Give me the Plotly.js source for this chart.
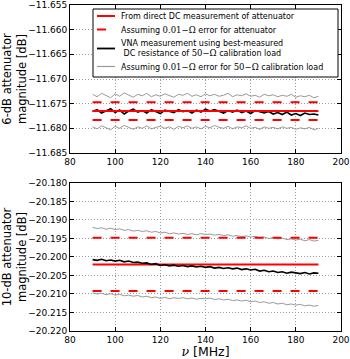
<!DOCTYPE html>
<html><head><meta charset="utf-8">
<script src="https://cdn.plot.ly/plotly-3.0.1.min.js"></script>
<style>html,body{margin:0;padding:0;background:#fff}</style>
</head><body><div id="chart" style="width:350px;height:359px"></div>
<script>
const freq = [90,92,94,96,98,100,102,104,106,108,110,112,114,116,118,120,122,124,126,128,130,132,134,136,138,140,142,144,146,148,150,152,154,156,158,160,162,164,166,168,170,172,174,176,178,180,182,184,186,188,190];
const fEnds = [90,190];

// 6-dB attenuator
const top6Black = [-11.6766,-11.6762,-11.6769,-11.6764,-11.6760,-11.6768,-11.6763,-11.6771,-11.6765,-11.6761,
 -11.6767,-11.6764,-11.6769,-11.6762,-11.6766,-11.6770,-11.6763,-11.6765,-11.6768,-11.6762,
 -11.6766,-11.6764,-11.6769,-11.6763,-11.6767,-11.6761,-11.6765,-11.6762,-11.6766,-11.6769,
 -11.6764,-11.6767,-11.6763,-11.6768,-11.6765,-11.6770,-11.6764,-11.6767,-11.6769,-11.6766,
 -11.6771,-11.6768,-11.6772,-11.6767,-11.6773,-11.6770,-11.6774,-11.6769,-11.6772,-11.6771,-11.6773];
const top6GrayHi = [-11.6731,-11.6736,-11.6729,-11.6734,-11.6738,-11.6730,-11.6735,-11.6728,-11.6733,-11.6737,
 -11.6731,-11.6734,-11.6729,-11.6736,-11.6732,-11.6735,-11.6730,-11.6734,-11.6737,-11.6731,
 -11.6733,-11.6729,-11.6735,-11.6732,-11.6736,-11.6730,-11.6734,-11.6731,-11.6735,-11.6733,
 -11.6729,-11.6736,-11.6732,-11.6734,-11.6730,-11.6735,-11.6733,-11.6737,-11.6731,-11.6734,
 -11.6732,-11.6736,-11.6733,-11.6735,-11.6731,-11.6737,-11.6734,-11.6736,-11.6733,-11.6738,-11.6735];
const top6GrayLo = [-11.6797,-11.6801,-11.6795,-11.6799,-11.6803,-11.6796,-11.6800,-11.6794,-11.6798,-11.6802,
 -11.6797,-11.6800,-11.6795,-11.6801,-11.6798,-11.6796,-11.6800,-11.6797,-11.6802,-11.6796,
 -11.6799,-11.6795,-11.6800,-11.6797,-11.6801,-11.6796,-11.6799,-11.6794,-11.6798,-11.6800,
 -11.6796,-11.6801,-11.6797,-11.6799,-11.6795,-11.6800,-11.6798,-11.6802,-11.6797,-11.6800,
 -11.6798,-11.6801,-11.6797,-11.6800,-11.6798,-11.6802,-11.6799,-11.6801,-11.6798,-11.6803,-11.6800];
const top6Red = [-11.6765,-11.6765];
const top6RedHi = [-11.6747,-11.6747];
const top6RedLo = [-11.6783,-11.6783];

// 10-dB attenuator
const bot10Black = [-20.2007,-20.2009,-20.2006,-20.2010,-20.2008,-20.2011,-20.2009,-20.2013,-20.2011,-20.2015,
 -20.2014,-20.2017,-20.2016,-20.2020,-20.2018,-20.2023,-20.2021,-20.2024,-20.2022,-20.2025,
 -20.2023,-20.2026,-20.2024,-20.2027,-20.2025,-20.2028,-20.2026,-20.2030,-20.2028,-20.2031,
 -20.2029,-20.2032,-20.2030,-20.2034,-20.2032,-20.2035,-20.2033,-20.2038,-20.2036,-20.2040,
 -20.2038,-20.2042,-20.2040,-20.2044,-20.2041,-20.2043,-20.2045,-20.2042,-20.2046,-20.2043,-20.2044];
const bot10GrayHi = [-20.1920,-20.1923,-20.1921,-20.1925,-20.1922,-20.1926,-20.1924,-20.1928,-20.1926,-20.1930,
 -20.1928,-20.1931,-20.1929,-20.1933,-20.1931,-20.1935,-20.1933,-20.1937,-20.1935,-20.1938,
 -20.1936,-20.1939,-20.1937,-20.1940,-20.1937,-20.1939,-20.1938,-20.1941,-20.1939,-20.1942,
 -20.1940,-20.1944,-20.1942,-20.1945,-20.1943,-20.1946,-20.1944,-20.1948,-20.1946,-20.1950,
 -20.1948,-20.1951,-20.1949,-20.1953,-20.1951,-20.1954,-20.1952,-20.1956,-20.1953,-20.1957,-20.1955];
const bot10GrayLo = [-20.2097,-20.2100,-20.2098,-20.2102,-20.2099,-20.2103,-20.2101,-20.2105,-20.2103,-20.2106,
 -20.2104,-20.2108,-20.2106,-20.2110,-20.2108,-20.2112,-20.2109,-20.2113,-20.2110,-20.2112,
 -20.2110,-20.2113,-20.2111,-20.2114,-20.2112,-20.2113,-20.2111,-20.2115,-20.2113,-20.2116,
 -20.2114,-20.2118,-20.2116,-20.2119,-20.2117,-20.2121,-20.2119,-20.2123,-20.2121,-20.2125,
 -20.2123,-20.2127,-20.2125,-20.2129,-20.2127,-20.2130,-20.2128,-20.2132,-20.2130,-20.2133,-20.2131];
const bot10Red = [-20.2020,-20.2020];
const bot10RedHi = [-20.1948,-20.1948];
const bot10RedLo = [-20.2092,-20.2092];

const legendNames = [
  'From direct DC measurement of attenuator',
  'Assuming <span style="font-family:DejaVu Serif;font-size:8.5px">0.01−Ω</span> error for attenuator',
  'VNA measurement using best-measured<br> DC resistance of <span style="font-family:DejaVu Serif;font-size:8.5px">50−Ω</span> calibration load',
  'Assuming <span style="font-family:DejaVu Serif;font-size:8.5px">0.01−Ω</span> error for <span style="font-family:DejaVu Serif;font-size:8.5px">50−Ω</span> calibration load'
];

const RED = '#ff0000', GRAY = '#999999', BLACK = '#000000';
function tr(x, y, ax, color, width, dash) {
  return {type:'scatter', mode:'lines', x:x, y:y, xaxis:ax[0], yaxis:ax[1],
    line:{color:color, width:width, dash:dash}, hoverinfo:'skip', showlegend:false};
}
const T = ['x2','y2'], B = ['x','y'];
const traces = [
  tr(freq, top6GrayHi, T, GRAY, 1, 'solid'),
  tr(freq, top6GrayLo, T, GRAY, 1, 'solid'),
  tr(freq, top6Black, T, BLACK, 1.6, 'solid'),
  tr(fEnds, top6RedHi, T, RED, 2, 'dash'),
  tr(fEnds, top6RedLo, T, RED, 2, 'dash'),
  tr(fEnds, top6Red, T, RED, 2, 'solid'),
  tr(freq, bot10GrayHi, B, GRAY, 1, 'solid'),
  tr(freq, bot10GrayLo, B, GRAY, 1, 'solid'),
  tr(fEnds, bot10RedHi, B, RED, 2, 'dash'),
  tr(fEnds, bot10RedLo, B, RED, 2, 'dash'),
  tr(fEnds, bot10Red, B, RED, 2, 'solid'),
  tr(freq, bot10Black, B, BLACK, 1.6, 'solid')
];

// Manual legend (pixel layout converted to paper coords)
const W = 350, H = 359, ML = 70, MR = 9, MT = 5, MB = 28;
const pw = W - ML - MR, ph = H - MT - MB;
const px = v => (v - ML) / pw;
const py = v => (H - MB - v) / ph;
const legendStyles = [
  {color:RED, width:2, dash:'solid'},
  {color:RED, width:2, dash:'dash'},
  {color:BLACK, width:1.8, dash:'solid'},
  {color:GRAY, width:1.2, dash:'solid'}
];
const legendRowY = [16, 29.5, 48.5, 66.5];
const shapes = [{type:'rect', xref:'paper', yref:'paper', x0:px(93), x1:px(338), y0:py(9), y1:py(77),
  line:{color:'#000', width:1}, fillcolor:'#fff', layer:'above'}];
const annotations = [];
legendNames.forEach((name, i) => {
  shapes.push({type:'line', xref:'paper', yref:'paper', x0:px(97), x1:px(115), y0:py(legendRowY[i]), y1:py(legendRowY[i]),
    line:legendStyles[i], layer:'above'});
  annotations.push({xref:'paper', yref:'paper', x:px(119), y:py(legendRowY[i]), xanchor:'left', yanchor:'middle',
    text:name, showarrow:false, align:'left', font:{size:8, family:'DejaVu Sans', color:'#000'}});
});

const tickFont = {family:'DejaVu Sans', size:9, color:'#000'};
const xBase = {range:[80,200], dtick:20, tick0:80, ticks:'inside', ticklen:4, tickcolor:'#000',
  showline:true, linecolor:'#000', linewidth:1, mirror:'ticks', showgrid:true, gridcolor:'#9a9a9a',
  griddash:'1px,2px', gridwidth:1, zeroline:false, tickfont:tickFont};
const yBase = {dtick:0.005, tickformat:'.3f', ticks:'inside', ticklen:4, tickcolor:'#000',
  showline:true, linecolor:'#000', linewidth:1, mirror:'ticks', showgrid:true, gridcolor:'#9a9a9a',
  griddash:'1px,2px', gridwidth:1, zeroline:false, tickfont:tickFont};

const layout = {
  width:W, height:H, paper_bgcolor:'#fff', plot_bgcolor:'#fff',
  margin:{l:ML, r:MR, t:MT, b:MB},
  font:{family:'DejaVu Sans', color:'#000'},
  showlegend:false,
  xaxis: Object.assign({}, xBase, {anchor:'y', domain:[0,1],
    title:{text:'<i style="font-family:DejaVu Serif">ν</i> [MHz]', font:{size:12.5}, standoff:1}}),
  xaxis2: Object.assign({}, xBase, {anchor:'y2', domain:[0,1]}),
  yaxis: Object.assign({}, yBase, {anchor:'x', domain:[0,0.454], range:[-20.22,-20.18], tick0:-20.22,
    title:{text:'10-dB attenuator<br>magnitude [dB]', font:{size:11.5}, standoff:4}}),
  yaxis2: Object.assign({}, yBase, {anchor:'x2', domain:[0.546,1], range:[-11.685,-11.655], tick0:-11.685,
    title:{text:'6-dB attenuator<br>magnitude [dB]', font:{size:11.5}, standoff:4}}),
  shapes: shapes,
  annotations: annotations
};
Plotly.newPlot('chart', traces, layout, {staticPlot:true, displayModeBar:false});
</script></body></html>
